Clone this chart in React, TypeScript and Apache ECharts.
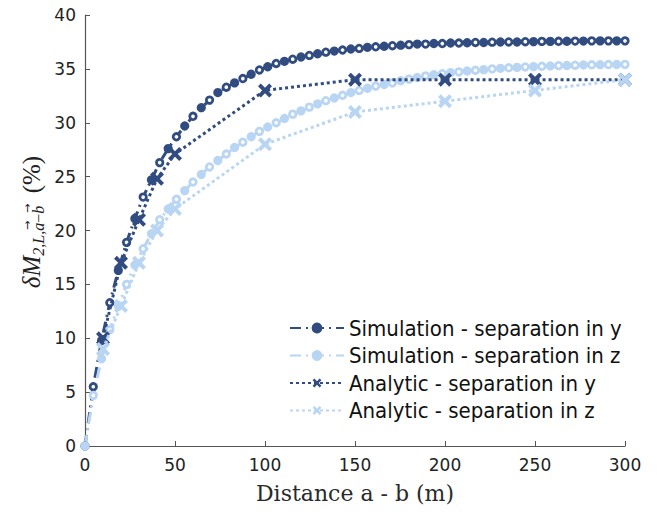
import React, { useEffect, useRef } from "react";
import * as echarts from "echarts";

const simX = [
  0, 4.6, 9.2, 13.8, 18.5, 23.1, 27.7, 32.3, 36.9, 41.5, 46.2, 50.8, 55.4, 60, 64.6, 69.2,
  73.8, 78.5, 83.1, 87.7, 92.3, 96.9, 101.5, 106.2, 110.8, 115.4, 120, 124.6, 129.2, 133.8,
  138.5, 143.1, 147.7, 152.3, 156.9, 161.5, 166.2, 170.8, 175.4, 180, 184.6, 189.2, 193.8,
  198.5, 203.1, 207.7, 212.3, 216.9, 221.5, 226.2, 230.8, 235.4, 240, 244.6, 249.2, 253.8,
  258.5, 263.1, 267.7, 272.3, 276.9, 281.5, 286.2, 290.8, 295.4, 300,
];
const simY = [
  0, 5.5, 9.8, 13.3, 16.3, 18.9, 21.1, 23.1, 24.7, 26.3, 27.6, 28.7, 29.7, 30.6, 31.4, 32.1,
  32.8, 33.3, 33.7, 34.1, 34.5, 34.9, 35.2, 35.5, 35.7, 35.9, 36.1, 36.25, 36.4, 36.55, 36.65,
  36.75, 36.85, 36.9, 37.0, 37.05, 37.1, 37.15, 37.2, 37.25, 37.3, 37.3, 37.35, 37.35, 37.4,
  37.4, 37.42, 37.45, 37.45, 37.48, 37.5, 37.5, 37.5, 37.52, 37.53, 37.55, 37.55, 37.56,
  37.57, 37.58, 37.58, 37.6, 37.6, 37.6, 37.6, 37.6,
];
const simZ = [
  0, 4.7, 8.1, 10.8, 13.0, 15.0, 16.8, 18.3, 19.7, 21.0, 22.0, 22.9, 23.7, 24.5, 25.2, 25.9,
  26.5, 27.1, 27.7, 28.2, 28.7, 29.2, 29.6, 30.0, 30.4, 30.8, 31.1, 31.45, 31.75, 32.05, 32.3,
  32.55, 32.8, 33.0, 33.2, 33.4, 33.55, 33.7, 33.9, 34.05, 34.2, 34.35, 34.45, 34.55, 34.65,
  34.72, 34.8, 34.87, 34.93, 35.0, 35.05, 35.1, 35.14, 35.18, 35.21, 35.24, 35.27, 35.3,
  35.32, 35.34, 35.36, 35.38, 35.39, 35.4, 35.41, 35.42,
];
const anaX = [10, 20, 30, 40, 50, 100, 150, 200, 250, 300];
const anaY = [10, 17, 21, 24.8, 27.1, 33, 34, 34, 34, 34];
const anaZ = [9, 13, 17, 20, 22, 28, 31, 32, 33, 34];

const names = [
  "Simulation - separation in y",
  "Simulation - separation in z",
  "Analytic - separation in y",
  "Analytic - separation in z",
];

const DARK = "#304c80";
const LIGHT = "#b9d5f4";
const CROSS = "path://M0,2 L2,0 L5,3 L8,0 L10,2 L7,5 L10,8 L8,10 L5,7 L2,10 L0,8 L3,5 Z";

function simData(ys: number[], color: string) {
  return simX.map((x, i) => {
    const hollow = i % 2 === 1;
    return {
      value: [x, ys[i]],
      itemStyle: { color: hollow ? "#ffffff" : color, borderColor: color, borderWidth: 2.8 },
    };
  });
}

const SERIF = "Liberation Serif";
const MAIN_FONT = `italic 25px "${SERIF}"`;
const SUB_FONT = `italic 16px "${SERIF}"`;
const PCT_FONT = `25px "${SERIF}"`;

function buildYLabel(cx: number, cy: number) {
  const ctx = document.createElement("canvas").getContext("2d")!;
  const w = (t: string, f: string) => {
    ctx.font = f;
    return ctx.measureText(t).width;
  };
  const parts: { t: string; f: string; dy: number; arrow?: boolean }[] = [
    { t: "δM", f: MAIN_FONT, dy: 0 },
    { t: "2,L,", f: SUB_FONT, dy: 7 },
    { t: "a", f: SUB_FONT, dy: 7, arrow: true },
    { t: "−", f: `16px "${SERIF}"`, dy: 7 },
    { t: "b", f: SUB_FONT, dy: 7, arrow: true },
    { t: "  (%)", f: PCT_FONT, dy: 0 },
  ];
  const widths = parts.map((p) => w(p.t, p.f));
  const total = widths.reduce((a, b) => a + b, 0);
  let x = -total / 2;
  const children: any[] = [];
  parts.forEach((p, i) => {
    children.push({
      type: "text",
      x,
      y: p.dy,
      style: { text: p.t, font: p.f, fill: "#222", align: "left", verticalAlign: "middle" },
    });
    if (p.arrow) {
      children.push({
        type: "text",
        x: x + widths[i] / 2 + 1.5,
        y: p.dy - 11,
        style: { text: "→", font: `11px "DejaVu Sans"`, fill: "#222", align: "center", verticalAlign: "middle" },
      });
    }
    x += widths[i];
  });
  return { type: "group", x: cx, y: cy, rotation: Math.PI / 2, children };
}

export default function App() {
  const ref = useRef<HTMLDivElement>(null);
  useEffect(() => {
    document.body.style.margin = "0";
    const chart = echarts.init(ref.current!, null, { renderer: "svg" });
    const sans = "DejaVu Sans";
    const option: any = {
      animation: false,
      backgroundColor: "#ffffff",
      grid: { left: 85, right: 32, top: 15, bottom: 68, containLabel: false },
      xAxis: {
        type: "value",
        min: 0,
        max: 300,
        interval: 50,
        name: "Distance a - b (m)",
        nameLocation: "middle",
        nameGap: 36,
        nameTextStyle: { fontFamily: "DejaVu Serif", fontSize: 22, color: "#2a2a2a" },
        axisLine: { show: true, lineStyle: { color: "#555", width: 1.2 } },
        axisTick: { show: true, inside: true, length: 5, lineStyle: { color: "#555" } },
        axisLabel: { fontFamily: sans, fontSize: 17, color: "#222", margin: 10 },
        splitLine: { show: false },
      },
      yAxis: {
        type: "value",
        min: 0,
        max: 40,
        interval: 5,
        axisLine: { show: true, lineStyle: { color: "#555", width: 1.2 } },
        axisTick: { show: true, inside: true, length: 5, lineStyle: { color: "#555" } },
        axisLabel: { fontFamily: sans, fontSize: 17, color: "#222", margin: 9 },
        splitLine: { show: false },
      },
      legend: {
        left: 284,
        top: 312,
        orient: "vertical",
        itemWidth: 54,
        itemHeight: 11,
        itemGap: 5.5,
        textStyle: {
          fontFamily: "DejaVu Sans Condensed, DejaVu Sans",
          fontSize: 22,
          lineHeight: 22,
          color: "#111",
        },
        data: names,
      },
      graphic: [buildYLabel(31, 222)],
      series: [
        {
          name: names[0],
          type: "line",
          data: simData(simY, DARK),
          symbol: "circle",
          symbolSize: 6.5,
          showAllSymbol: true,
          color: DARK,
          itemStyle: { color: DARK, borderColor: DARK, borderWidth: 2.8 },
          lineStyle: { color: DARK, width: 3, type: [11, 5, 2, 5] },
          z: 2,
        },
        {
          name: names[1],
          type: "line",
          data: simData(simZ, LIGHT),
          symbol: "circle",
          symbolSize: 6.5,
          showAllSymbol: true,
          color: LIGHT,
          itemStyle: { color: LIGHT, borderColor: LIGHT, borderWidth: 2.8 },
          lineStyle: { color: LIGHT, width: 3, type: [11, 5, 2, 5] },
          z: 2,
        },
        {
          name: names[2],
          type: "line",
          data: anaX.map((x, i) => [x, anaY[i]]),
          symbol: CROSS,
          symbolSize: 14,
          showAllSymbol: true,
          color: DARK,
          itemStyle: { color: DARK },
          lineStyle: { color: DARK, width: 3, type: [3, 3] },
          z: 3,
        },
        {
          name: names[3],
          type: "line",
          data: anaX.map((x, i) => [x, anaZ[i]]),
          symbol: CROSS,
          symbolSize: 14,
          showAllSymbol: true,
          color: LIGHT,
          itemStyle: { color: LIGHT },
          lineStyle: { color: LIGHT, width: 3, type: [3, 3] },
          z: 4,
        },
      ],
    };
    chart.setOption(option);
    return () => chart.dispose();
  }, []);
  return <div ref={ref} style={{ width: 657, height: 514 }} />;
}
